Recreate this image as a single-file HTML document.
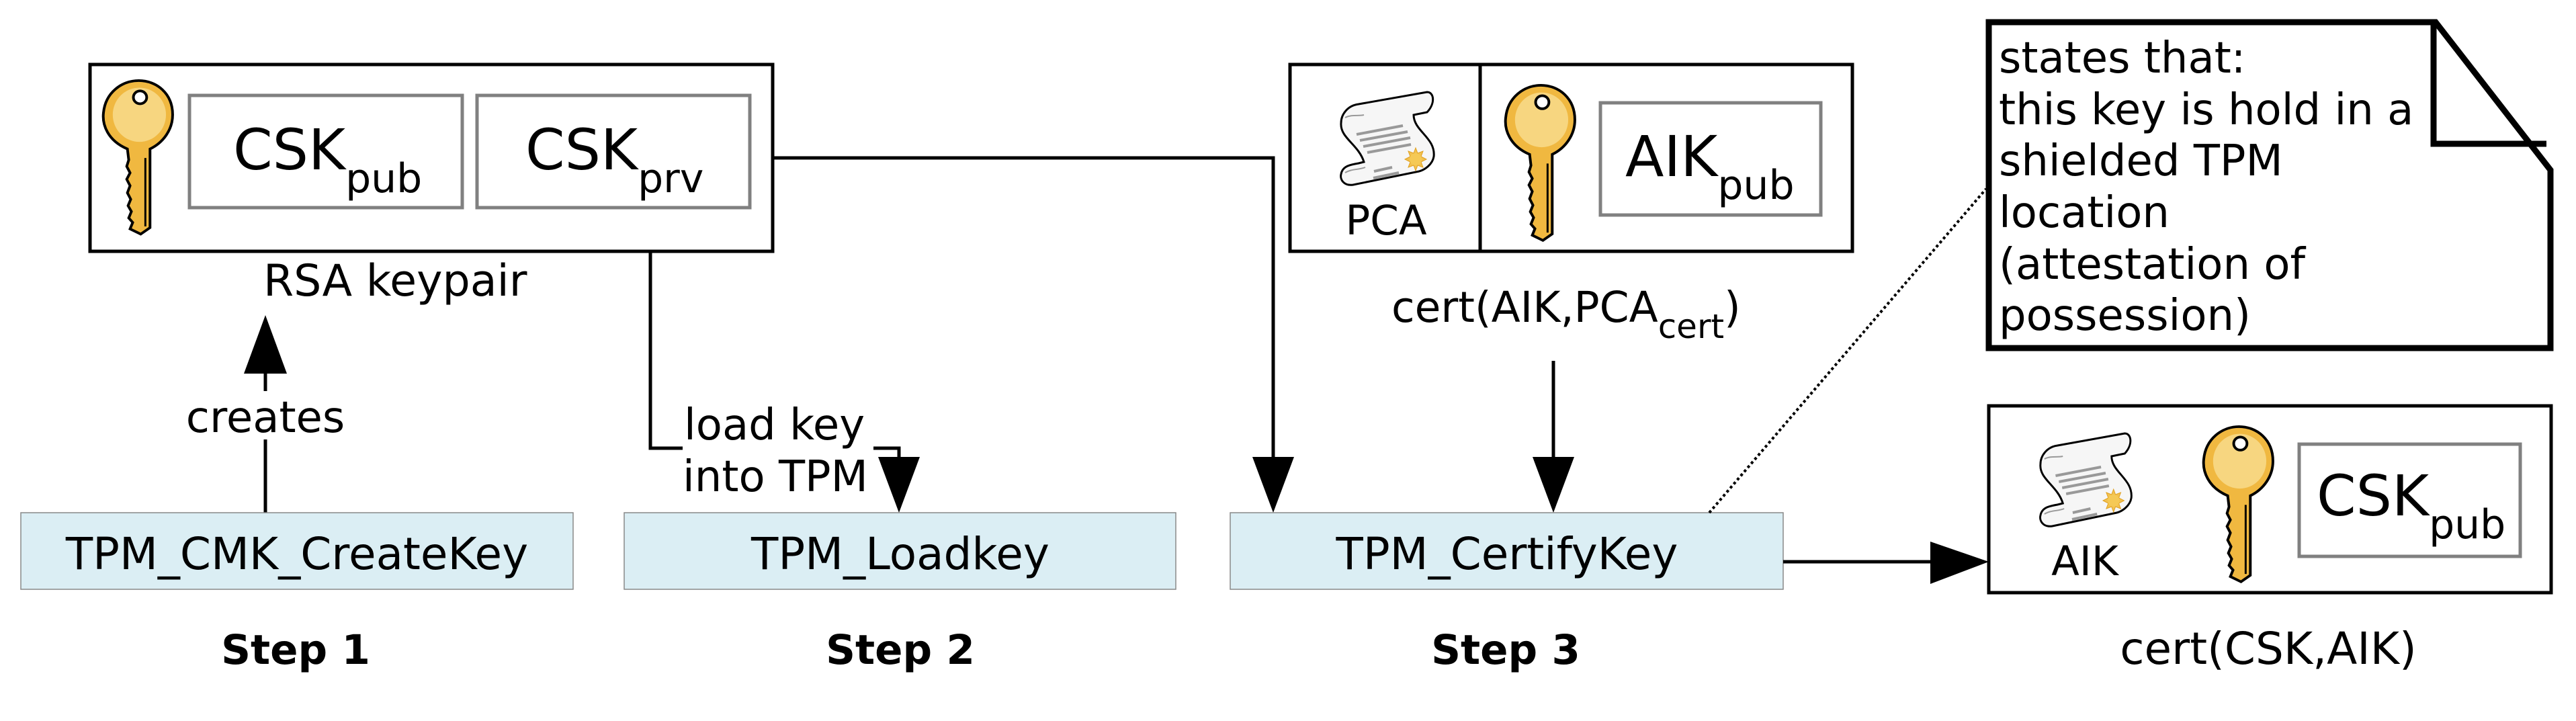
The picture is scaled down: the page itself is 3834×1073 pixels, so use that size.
<!DOCTYPE html>
<html><head><meta charset="utf-8"><style>
html,body{margin:0;padding:0;background:#fff;}
svg{display:block;}
text{font-family:"DejaVu Sans","Liberation Sans",sans-serif;fill:#000;}
</style></head><body>
<svg width="3834" height="1073" viewBox="0 0 3834 1073" xmlns="http://www.w3.org/2000/svg">
<defs>
<g id="key">
  <path d="M38 108 C8 95 0 70 2 52 C5 20 30 2 55 2 C82 2 106 22 106 55 C106 78 92 98 72 108 L72 230 L58 240 L42 232 L46 222 L40 215 L44 205 L39 196 L43 186 L38 176 L42 165 L37 155 L42 145 L37 135 L40 125 Z" fill="#f0b840" stroke="#000" stroke-width="4"/>
  <ellipse cx="56" cy="55" rx="40" ry="42" fill="#f7d680"/>
  <circle cx="57" cy="28" r="10" fill="#fff" stroke="#000" stroke-width="4"/>
  <line x1="65" y1="122" x2="65" y2="228" stroke="#000" stroke-width="3"/>
</g>
<g id="scroll">
  <path d="M30 20 L132 2 C142 2 145 18 132 32 L112 36 C112 60 145 70 142 98 C140 110 128 118 120 120 L22 140 C8 142 2 132 4 124 C6 112 18 110 30 108 L38 106 C30 80 2 70 4 48 C4 35 14 22 30 20 Z" fill="#f6f6f6" stroke="#000" stroke-width="3"/>
  <path d="M10 40 C20 35 30 38 38 36 M10 122 C20 116 30 118 40 114" stroke="#999" stroke-width="2" fill="none"/>
  <g stroke="#999" stroke-width="4">
    <line x1="27" y1="65" x2="96" y2="52"/><line x1="32" y1="74" x2="103" y2="61"/>
    <line x1="37" y1="83" x2="107" y2="70"/><line x1="43" y1="92" x2="108" y2="80"/>
    <line x1="53" y1="120" x2="80" y2="114"/><line x1="52" y1="130" x2="90" y2="122"/>
  </g>
  <polygon points="115,85 118,93 126,90 123,98 131,102 123,106 126,114 118,111 115,119 112,111 104,114 107,106 99,102 107,98 104,90 112,93" fill="#f2c14e" stroke="#e0a020" stroke-width="1"/>
  <circle cx="115" cy="102" r="9" fill="#f5c955"/>
</g>
</defs>

<!-- Step 1 -->
<rect x="134" y="96" width="1016" height="278" fill="#fff" stroke="#000" stroke-width="5"/>
<use href="#key" transform="translate(152,118) scale(0.99,0.96)"/>
<rect x="282" y="142" width="406" height="167" fill="#fff" stroke="#808080" stroke-width="5"/>
<rect x="710" y="142" width="406" height="167" fill="#fff" stroke="#808080" stroke-width="5"/>
<text x="347" y="252" font-size="84">CSK<tspan font-size="60" dy="34">pub</tspan></text>
<text x="782" y="252" font-size="84">CSK<tspan font-size="60" dy="34">prv</tspan></text>
<text x="392" y="440" font-size="65">RSA keypair</text>

<line x1="395" y1="763" x2="395" y2="654" stroke="#000" stroke-width="5"/>
<line x1="395" y1="582" x2="395" y2="550" stroke="#000" stroke-width="5"/>
<polygon points="395,469 363,556 427,556" fill="#000"/>
<text x="395" y="643" font-size="64" text-anchor="middle">creates</text>

<rect x="31" y="763" width="822" height="114" fill="#dbeef4" stroke="#888" stroke-width="1.5"/>
<text x="442" y="847" font-size="66" text-anchor="middle">TPM_CMK_CreateKey</text>
<text x="440" y="988" font-size="61" font-weight="bold" text-anchor="middle">Step 1</text>

<!-- Step 2 -->
<polyline points="968,374 968,667 1016,667" fill="none" stroke="#000" stroke-width="5"/>
<polyline points="1300,667 1338,667 1338,700" fill="none" stroke="#000" stroke-width="5"/>
<polygon points="1338,763 1307,680 1369,680" fill="#000"/>
<text x="1018" y="654" font-size="64">load key</text>
<text x="1016" y="731" font-size="64">into TPM</text>
<rect x="929" y="763" width="821" height="114" fill="#dbeef4" stroke="#888" stroke-width="1.5"/>
<text x="1340" y="847" font-size="66" text-anchor="middle">TPM_Loadkey</text>
<text x="1340" y="988" font-size="61" font-weight="bold" text-anchor="middle">Step 2</text>

<!-- long connector -->
<polyline points="1150,235 1895,235 1895,700" fill="none" stroke="#000" stroke-width="5"/>
<polygon points="1895,763 1864,680 1926,680" fill="#000"/>

<!-- PCA/AIK box -->
<rect x="1920" y="96" width="837" height="278" fill="#fff" stroke="#000" stroke-width="5"/>
<line x1="2203" y1="96" x2="2203" y2="374" stroke="#000" stroke-width="5"/>
<use href="#scroll" transform="translate(1992,135)"/>
<text x="2063" y="349" font-size="61" text-anchor="middle">PCA</text>
<use href="#key" transform="translate(2239,125) scale(0.99,0.97)"/>
<rect x="2382" y="153" width="328" height="167" fill="#fff" stroke="#808080" stroke-width="5"/>
<text x="2419" y="262" font-size="84">AIK<tspan font-size="60" dy="34">pub</tspan></text>
<text x="2071" y="479" font-size="63">cert(AIK,PCA<tspan font-size="50" dy="24">cert</tspan><tspan dy="-24">)</tspan></text>
<line x1="2312" y1="537" x2="2312" y2="700" stroke="#000" stroke-width="5"/>
<polygon points="2312,763 2281,680 2343,680" fill="#000"/>

<rect x="1831" y="763" width="823" height="114" fill="#dbeef4" stroke="#888" stroke-width="1.5"/>
<text x="2243" y="847" font-size="66" text-anchor="middle">TPM_CertifyKey</text>
<text x="2241" y="988" font-size="61" font-weight="bold" text-anchor="middle">Step 3</text>

<!-- dotted -->
<line x1="2544" y1="763" x2="2956" y2="281" stroke="#000" stroke-width="4" stroke-dasharray="4,4"/>

<!-- Note -->
<path d="M2960 33 L3625 33 L3796 253 L3796 518 L2960 518 Z" fill="#fff" stroke="#000" stroke-width="9"/>
<polyline points="3622,33 3622,214 3790,214" fill="none" stroke="#000" stroke-width="9"/>
<g font-size="64">
<text x="2975" y="108">states that:</text>
<text x="2975" y="185">this key is hold in a</text>
<text x="2975" y="261">shielded TPM</text>
<text x="2975" y="338">location</text>
<text x="2975" y="415">(attestation of</text>
<text x="2975" y="491">possession)</text>
</g>

<!-- result -->
<line x1="2654" y1="836" x2="2880" y2="836" stroke="#000" stroke-width="5"/>
<polygon points="2960,836 2873,806 2873,869" fill="#000"/>
<rect x="2960" y="604" width="837" height="278" fill="#fff" stroke="#000" stroke-width="5"/>
<use href="#scroll" transform="translate(3033,643) scale(0.98,1)"/>
<text x="3103" y="856" font-size="61" text-anchor="middle">AIK</text>
<use href="#key" transform="translate(3278,633) scale(0.99,0.97)"/>
<rect x="3422" y="661" width="329" height="167" fill="#fff" stroke="#808080" stroke-width="5"/>
<text x="3448" y="767" font-size="84">CSK<tspan font-size="60" dy="34">pub</tspan></text>
<text x="3376" y="988" font-size="66" text-anchor="middle">cert(CSK,AIK)</text>
</svg>
</body></html>
